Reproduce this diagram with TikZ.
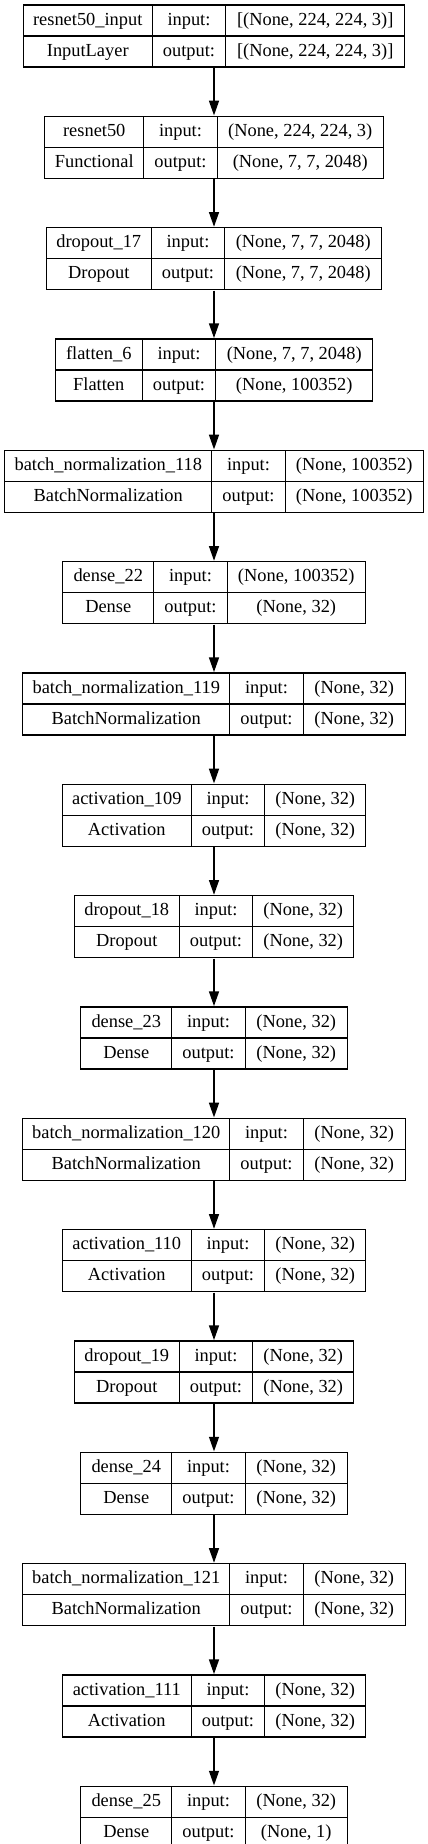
\documentclass[tikz,border=0pt]{standalone}
\usepackage{fontspec}
\setmainfont{Liberation Serif}
\usepackage{tikz}
\usetikzlibrary{matrix, positioning, arrows.meta}

\begin{document}
\begin{tikzpicture}[x=0.75pt, y=0.75pt, node distance=35.6pt,
    layer/.style={matrix of nodes, inner sep=0pt, column sep=-1pt, row sep=-1pt,
        nodes={draw, line width=1pt, minimum height=23.25pt, text height=10pt, text depth=3.2pt, inner xsep=2pt, font=\fontsize{13.8}{16}\selectfont},
        column 2/.style={nodes={minimum width=55.1pt}}},
    cols/.style 2 args={column 1/.style={nodes={minimum width=#1}}, column 3/.style={nodes={minimum width=#2}}},
    line/.style={draw, line width=1pt, -{Triangle[length=11pt, width=7.5pt]}}]

    \useasboundingbox (0,0) rectangle (428,-1844);

    % Backbone
    \matrix [layer, cols={96.75pt}{134.25pt}] (input) at (214,-36) {
        resnet50\_input & input: & {[(None, 224, 224, 3)]} \\
        InputLayer & output: & {[(None, 224, 224, 3)]} \\
    };
    \matrix [layer, cols={74.25pt}{124.5pt}, below=of input] (resnet) {
        resnet50 & input: & (None, 224, 224, 3) \\
        Functional & output: & (None, 7, 7, 2048) \\
    };
    \matrix [layer, cols={78.75pt}{117.75pt}, below=of resnet] (drop17) {
        dropout\_17 & input: & (None, 7, 7, 2048) \\
        Dropout & output: & (None, 7, 7, 2048) \\
    };
    \matrix [layer, cols={65.25pt}{117.75pt}, below=of drop17] (flat6) {
        flatten\_6 & input: & (None, 7, 7, 2048) \\
        Flatten & output: & (None, 100352) \\
    };
    \matrix [layer, cols={155.25pt}{103.5pt}, below=of flat6] (bn118) {
        batch\_normalization\_118 & input: & (None, 100352) \\
        BatchNormalization & output: & (None, 100352) \\
    };
    \matrix [layer, cols={68.25pt}{103.5pt}, below=of bn118] (dense22) {
        dense\_22 & input: & (None, 100352) \\
        Dense & output: & (None, 32) \\
    };

    % Head
    \matrix [layer, cols={155.25pt}{76.5pt}, below=of dense22] (bn119) {
        batch\_normalization\_119 & input: & (None, 32) \\
        BatchNormalization & output: & (None, 32) \\
    };
    \matrix [layer, cols={96.75pt}{75.75pt}, below=of bn119] (act109) {
        activation\_109 & input: & (None, 32) \\
        Activation & output: & (None, 32) \\
    };
    \matrix [layer, cols={78.75pt}{75.75pt}, below=of act109] (drop18) {
        dropout\_18 & input: & (None, 32) \\
        Dropout & output: & (None, 32) \\
    };
    \matrix [layer, cols={68.25pt}{76.5pt}, below=of drop18] (dense23) {
        dense\_23 & input: & (None, 32) \\
        Dense & output: & (None, 32) \\
    };
    \matrix [layer, cols={155.25pt}{76.5pt}, below=of dense23] (bn120) {
        batch\_normalization\_120 & input: & (None, 32) \\
        BatchNormalization & output: & (None, 32) \\
    };
    \matrix [layer, cols={96.75pt}{75.75pt}, below=of bn120] (act110) {
        activation\_110 & input: & (None, 32) \\
        Activation & output: & (None, 32) \\
    };
    \matrix [layer, cols={78.75pt}{75.75pt}, below=of act110] (drop19) {
        dropout\_19 & input: & (None, 32) \\
        Dropout & output: & (None, 32) \\
    };
    \matrix [layer, cols={68.25pt}{76.5pt}, below=of drop19] (dense24) {
        dense\_24 & input: & (None, 32) \\
        Dense & output: & (None, 32) \\
    };
    \matrix [layer, cols={155.25pt}{76.5pt}, below=of dense24] (bn121) {
        batch\_normalization\_121 & input: & (None, 32) \\
        BatchNormalization & output: & (None, 32) \\
    };
    \matrix [layer, cols={96.75pt}{75.75pt}, below=of bn121] (act111) {
        activation\_111 & input: & (None, 32) \\
        Activation & output: & (None, 32) \\
    };
    \matrix [layer, cols={68.25pt}{76.5pt}, below=of act111] (dense25) {
        dense\_25 & input: & (None, 32) \\
        Dense & output: & (None, 1) \\
    };

    % Connections
    \path [line] (input) -- (resnet);
    \path [line] (resnet) -- (drop17);
    \path [line] (drop17) -- (flat6);
    \path [line] (flat6) -- (bn118);
    \path [line] (bn118) -- (dense22);
    \path [line] (dense22) -- (bn119);
    \path [line] (bn119) -- (act109);
    \path [line] (act109) -- (drop18);
    \path [line] (drop18) -- (dense23);
    \path [line] (dense23) -- (bn120);
    \path [line] (bn120) -- (act110);
    \path [line] (act110) -- (drop19);
    \path [line] (drop19) -- (dense24);
    \path [line] (dense24) -- (bn121);
    \path [line] (bn121) -- (act111);
    \path [line] (act111) -- (dense25);

\end{tikzpicture}
\end{document}
